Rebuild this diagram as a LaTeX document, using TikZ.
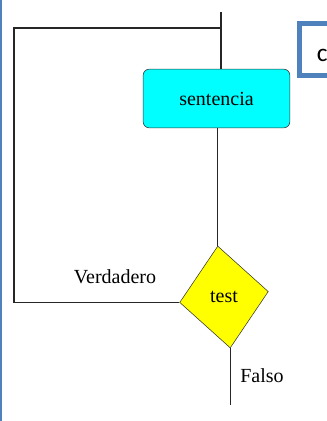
\documentclass[tikz,border=0pt]{standalone}
\usepackage{fontspec}
\setmainfont{Liberation Serif}
\newfontfamily\titlefont{Carlito}
\usetikzlibrary{shapes.geometric}
\definecolor{azul}{RGB}{79,129,189}
\definecolor{celeste}{RGB}{0,255,255}
\definecolor{amarillo}{RGB}{255,255,0}
\tikzset{
  flujo/.style={line width=1.1pt,black!85},
  caja/.style={draw=black!80,fill=celeste,rounded corners=4.5pt,minimum width=110pt,minimum height=44pt,font=\fontsize{15}{18}\selectfont},
  rombo/.style={diamond,draw=black!80,fill=amarillo,aspect=0.86,minimum width=67pt,minimum height=77pt,inner sep=0pt,rotate=7},
  rotulo/.style={font=\fontsize{15}{18}\selectfont}
}

\begin{document}
\begin{tikzpicture}[x=0.75pt,y=-0.75pt]
                \clip (0,0) rectangle (327,421);
                \fill[white] (0,0) rectangle (327,421);
                %\draw[help lines] (0,0) grid (327,421);
                \draw[azul,line width=1.5pt] (1,0) -- (1,421);
                \draw[azul,line width=3.75pt,fill=white] (299.5,23.5) rectangle (345,75.5);
                \node[anchor=west,inner sep=0pt,font=\titlefont\fontsize{19}{22}\selectfont] (titulo) at (316.5,55) {c};
                \node[caja] (sentencia) at (216.5,98.5) {sentencia};
                \node[rombo] (test) at (224,297) {};
                \node[rotulo] (testtxt) at (test.center) {test};
                \draw (221,12) coordinate(entrada);
                \draw (221,28) coordinate(vuelta);
                \draw (test.south) ++(0,57) coordinate(salida);
                \draw[flujo] (entrada) -- (entrada |- sentencia.north);
                \draw[flujo] (test.north |- sentencia.south) -- (test.north);
                \draw[flujo] (test.west) -- (14,0 |- test.west) -- (14,28) -- (vuelta);
                \draw[flujo] (test.south) -- (salida);
                \node[rotulo] (verdadero) at (115,277) {Verdadero};
                \node[rotulo] (falso) at (262,376) {Falso};
            \end{tikzpicture}
\end{document}
